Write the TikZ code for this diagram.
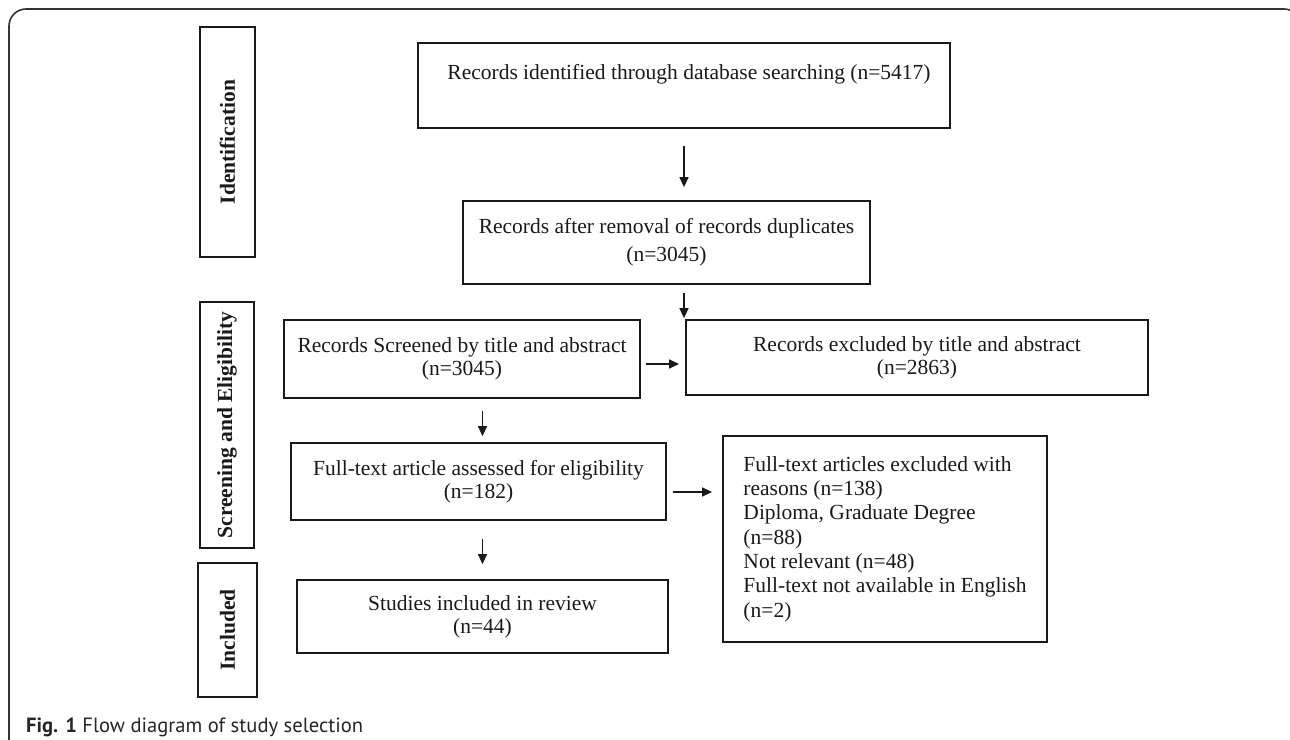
\documentclass[tikz,border=0pt]{standalone}
\usepackage{fontspec}
\setmainfont{Liberation Serif}
\newfontfamily\capfont{PT Sans}
\usetikzlibrary{arrows.meta}
\begin{document}
\begin{tikzpicture}[x=1pt,y=-1pt,
  box/.style={draw=black!90, line width=1.8pt, align=center, inner sep=0pt,
    font=\fontsize{21.5}{23}\selectfont, text=black!90},
  txt/.style={inner sep=0pt, font=\fontsize{21.5}{23}\selectfont, text=black!90},
  side/.style={draw=black!90, line width=1.8pt, inner sep=0pt, rotate=90,
    font=\fontsize{21.5}{24}\selectfont\bfseries, text=black!90},
  arr/.style={-{Triangle[length=10pt,width=9pt]}, line width=1.4pt, draw=black!90},
]
\useasboundingbox (0,0) rectangle (1290,739);
% outer frame
\begin{scope}
\clip (0,0) rectangle (1290,739);
\draw[rounded corners=17pt, line width=1.6pt, black!80] (9,780) -- (9,9) -- (1301,9) -- (1301,780);
\end{scope}
% side labels
\node[side, minimum width=230, minimum height=55] (id) at (227.5,142) {Identification};
\node[side, minimum width=246, minimum height=54] (se) at (227,425) {Screening and Eligibility};
\node[side, minimum width=134, minimum height=59] (inc) at (227.5,630) {Included};
% main boxes
\node[box, minimum width=532, minimum height=85] (b1) at (684,85.5) {};
\node[txt] (b1t) at (689,74) {Records identified through database searching (n=5417)};
\node[box, minimum width=407, minimum height=83] (b2) at (666.5,242.5) {Records after removal of records duplicates\\[5pt](n=3045)};
\node[box, minimum width=356, minimum height=78] (b3) at (462,359) {Records Screened by title and abstract\\(n=3045)};
\node[box, minimum width=462, minimum height=75] (b4) at (917,357.5) {Records excluded by title and abstract\\(n=2863)};
\node[box, minimum width=375, minimum height=77] (b5) at (478.5,481.5) {Full-text article assessed for eligibility\\(n=182)};
\node[box, minimum width=324, minimum height=206, align=left, font=\fontsize{21.5}{24.3}\selectfont] (b6) at (885,539) {Full-text articles excluded with\\reasons (n=138)\\Diploma, Graduate Degree\\(n=88)\\Not relevant (n=48)\\Full-text not available in English\\(n=2)};
\node[box, minimum width=371, minimum height=73] (b7) at (482.5,616.5) {Studies included in review\\(n=44)};
% connectors
\draw[arr, shorten <=17pt, shorten >=13pt] (b1.south) -- (b1.south |- b2.north);
\draw[arr, shorten <=8pt, shorten >=1pt] (b2.south -| b1.south) -- (b3.north -| b1.south);
\draw[arr, shorten <=5pt, shorten >=6pt] ([yshift=-5pt]b3.east) -- ([yshift=-5pt]b3.east -| b4.west);
\draw[arr, shorten <=12pt, shorten >=6pt] (b3.south -| b7.north) -- (b5.north -| b7.north);
\draw[arr, shorten <=6pt, shorten >=10pt] ([yshift=-10.5pt]b5.east) -- ([yshift=-10.5pt]b5.east -| b6.west);
\draw[arr, shorten <=18pt, shorten >=15pt] (b5.south -| b7.north) -- (b7.north);
% caption
\node[anchor=base west, inner sep=0pt, font=\capfont\fontsize{20.6}{24}\selectfont, text=black!85] (cap) at (26,732) {\textbf{Fig. 1} Flow diagram of study selection};
\end{tikzpicture}
\end{document}
